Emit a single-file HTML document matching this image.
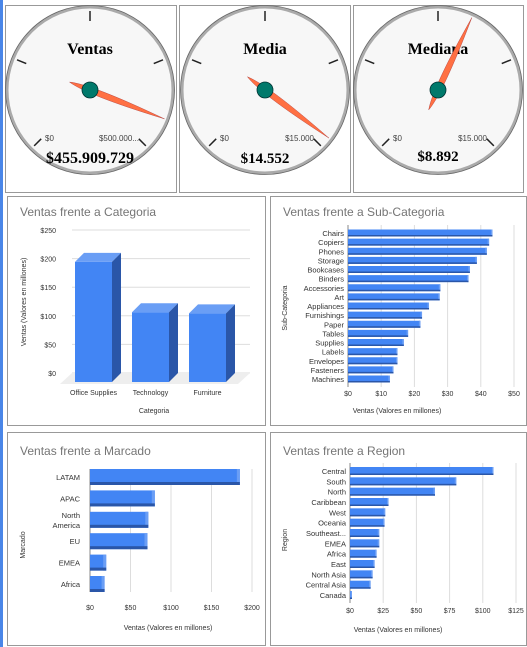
<!DOCTYPE html>
<html><head><meta charset="utf-8"><style>
body{margin:0;width:527px;height:647px;background:#fff;position:relative;overflow:hidden;font-family:"Liberation Sans",sans-serif}
.p{position:absolute;border:1px solid #999;box-sizing:border-box;background:#fff}
svg{position:absolute;left:0;top:0}
</style></head><body>
<div style="position:absolute;left:0;top:0;width:3px;height:647px;background:#4a86e8"></div>
<div class="p" style="left:5px;top:5px;width:172px;height:188px"></div>
<div class="p" style="left:179px;top:5px;width:172px;height:188px"></div>
<div class="p" style="left:353px;top:5px;width:171px;height:188px"></div>
<div class="p" style="left:7px;top:196px;width:259px;height:230px"></div>
<div class="p" style="left:270px;top:196px;width:257px;height:230px"></div>
<div class="p" style="left:7px;top:432px;width:259px;height:214px"></div>
<div class="p" style="left:270px;top:432px;width:257px;height:214px"></div>
<svg id="s" width="527" height="647"></svg>
<script>
const gaugeTitles=["Ventas","Media","Mediana"];
const gaugeValues=[455909729,14552,8892];
const gaugeMax=[500000000,15000,15000];
const gaugeMaxLabels=["$500.000...","$15.000","$15.000"];
const gaugeDisplay=["$455.909.729","$14.552","$8.892"];
const catNames=["Office Supplies","Technology","Furniture"];
const catValues=[210,122,120];
const catTicks=["$0","$50","$100","$150","$200","$250"];
const subNames=["Chairs","Copiers","Phones","Storage","Bookcases","Binders","Accessories","Art","Appliances","Furnishings","Paper","Tables","Supplies","Labels","Envelopes","Fasteners","Machines"];
const subValues=[43.5,42.5,41.8,38.8,36.7,36.3,27.8,27.6,24.4,22.3,21.8,18.1,16.8,14.9,14.9,13.7,12.6];
const subTicks=["$0","$10","$20","$30","$40","$50"];
const mktNames=["LATAM","APAC","North|America","EU","EMEA","Africa"];
const mktValues=[185,80,72,71,20,18];
const mktTicks=["$0","$50","$100","$150","$200"];
const regNames=["Central","South","North","Caribbean","West","Oceania","Southeast...","EMEA","Africa","East","North Asia","Central Asia","Canada"];
const regValues=[108,80,64,29,26.5,26,22,22,20,18.5,17,15.5,1.5];
const regTicks=["$0","$25","$50","$75","$100","$125"];

const S=document.getElementById('s');const NS="http://www.w3.org/2000/svg";
function el(t,a,txt){const e=document.createElementNS(NS,t);for(const k in a)e.setAttribute(k,a[k]);if(txt!==undefined)e.textContent=txt;S.appendChild(e);return e;}

const gcx=[90,265,438];
gaugeTitles.forEach((t,i)=>{
  const cx=gcx[i],cy=90,r=83;
  let c=el('circle',{cx,cy,r,fill:'#f7f7f7',stroke:'#aaa','stroke-width':3});
  
  el('circle',{cx,cy,r:r+1.5,fill:'none',stroke:'#666','stroke-width':0.8});
  [-135,-67.5,0,67.5,135].forEach(a=>{const rd=a*Math.PI/180;
    el('line',{x1:cx+Math.sin(rd)*(r-4),y1:cy-Math.cos(rd)*(r-4),x2:cx+Math.sin(rd)*(r-14),y2:cy-Math.cos(rd)*(r-14),stroke:'#222','stroke-width':1.5});});
  let tt=el('text',{x:cx,y:54,'text-anchor':'middle','font-family':'Liberation Serif','font-weight':'bold','font-size':16},t);
  
  el('text',{x:cx-45,y:141,'font-size':8,fill:'#444'},"$0");
  el('text',{x:cx+49,y:141,'font-size':8,fill:'#444','text-anchor':'end'},gaugeMaxLabels[i]);
  const a=(-135+270*gaugeValues[i]/gaugeMax[i])*Math.PI/180;
  const dx=Math.sin(a),dy=-Math.cos(a),px=-dy,py=dx,L=r-3;
  let n=el('path',{d:`M${cx-dx*22},${cy-dy*22} Q${cx+px*6},${cy+py*6} ${cx+dx*L},${cy+dy*L} Q${cx-px*6},${cy-py*6} ${cx-dx*22},${cy-dy*22}Z`,fill:'#ff7043',stroke:'#a33','stroke-width':0.4});
  
  el('circle',{cx,cy,r:8,fill:'#00796b',stroke:'#033','stroke-width':0.8});
  el('text',{x:cx,y:i==2?161:163,'text-anchor':'middle','font-family':'Liberation Serif','font-weight':'bold','font-size':i==0?16:15},gaugeDisplay[i]);
});

function title(x,y,t){let e=el('text',{x,y,'font-size':12,fill:'#757575'},t);}
function vtitle(x,y,t){el('text',{x,y,'font-size':7,fill:'#333','text-anchor':'middle',transform:`rotate(-90 ${x} ${y})`},t);}

title(20,216,"Ventas frente a Categoria");
{const y0=373,ppu=143/250,xl=72,xr=250;
catTicks.forEach((t,i)=>{const y=y0-i*50*ppu;el('line',{x1:xl,x2:xr,y1:y,y2:y,stroke:'#ddd'});el('text',{x:56,y:y+3,'font-size':7,'text-anchor':'end',fill:'#333'},t);});
el('polygon',{points:`${xl-12},384 ${xr-12},384 ${xr},${y0} ${xl},${y0}`,fill:'#eee'});
catValues.forEach((v,i)=>{const x=75+i*57,w=37,h=v*ppu,top=y0+9-h,d=9;
  let b=el('rect',{x,y:top,width:w,height:h,fill:'#4285f4'});
  el('polygon',{points:`${x},${top} ${x+d},${top-d} ${x+w+d},${top-d} ${x+w},${top}`,fill:'#6a9ef5'});
  el('polygon',{points:`${x+w},${top} ${x+w+d},${top-d} ${x+w+d},${top+h-d} ${x+w},${top+h}`,fill:'#2a56a8'});
  el('text',{x:x+w/2,y:395,'font-size':7,'text-anchor':'middle',fill:'#333'},catNames[i]);});
vtitle(26,302,"Ventas  (Valores en millones)");
el('text',{x:154,y:413,'font-size':7,'text-anchor':'middle',fill:'#333'},"Categoria");}

function hbars(names,vals,ticks,tstep,x0,x1,yFirst,yLast,bh,tickY,fs,nameCls,big){
  const max=tstep*(ticks.length-1),ppu=(x1-x0)/max,step=(yLast-yFirst)/(names.length-1);
  ticks.forEach((t,i)=>{const x=x0+i*tstep*ppu;el('line',{x1:x,x2:x,y1:yFirst-8,y2:yLast+8,stroke:i?'#ddd':'#888'});el('text',{x,y:tickY,'font-size':7,'text-anchor':'middle',fill:'#333'},t);});
  vals.forEach((v,i)=>{const y=yFirst+i*step,w=v*ppu;
    let b=el('rect',{x:x0,y:y-bh/2,width:w,height:bh,fill:'#4285f4'});
    const d=big?3:1.5;
    el('rect',{x:x0+w-d,y:y-bh/2,width:d,height:bh,fill:'#6a9ef5'});
    el('rect',{x:x0,y:y+bh/2-d,width:w,height:d,fill:'#2a56a8'});
    const parts=names[i].split('|');
    parts.forEach((p,j)=>el('text',{x:x0-(big?10:4),y:y+3+(j-(parts.length-1)/2)*10,'font-size':fs,'text-anchor':'end',fill:'#333'},p));});
}
title(283,216,"Ventas frente a Sub-Categoria");
hbars(subNames,subValues,subTicks,10,348,514,233,379,7,396,7.5,'subcat',false);
vtitle(287,308,"Sub-Categoria");
el('text',{x:397,y:413,'font-size':7,'text-anchor':'middle',fill:'#333'},"Ventas  (Valores en millones)");

title(20,455,"Ventas frente a Marcado");
hbars(mktNames,mktValues,mktTicks,50,90,252,477,584,16,610,7.5,'marcado',true);
vtitle(25,545,"Marcado");
el('text',{x:168,y:630,'font-size':7,'text-anchor':'middle',fill:'#333'},"Ventas  (Valores en millones)");

title(283,455,"Ventas frente a Region");
hbars(regNames,regValues,regTicks,25,350,516,471,595,8,613,7.5,'region',false);
vtitle(287,540,"Region");
el('text',{x:398,y:632,'font-size':7,'text-anchor':'middle',fill:'#333'},"Ventas  (Valores en millones)");
</script>
</body></html>
